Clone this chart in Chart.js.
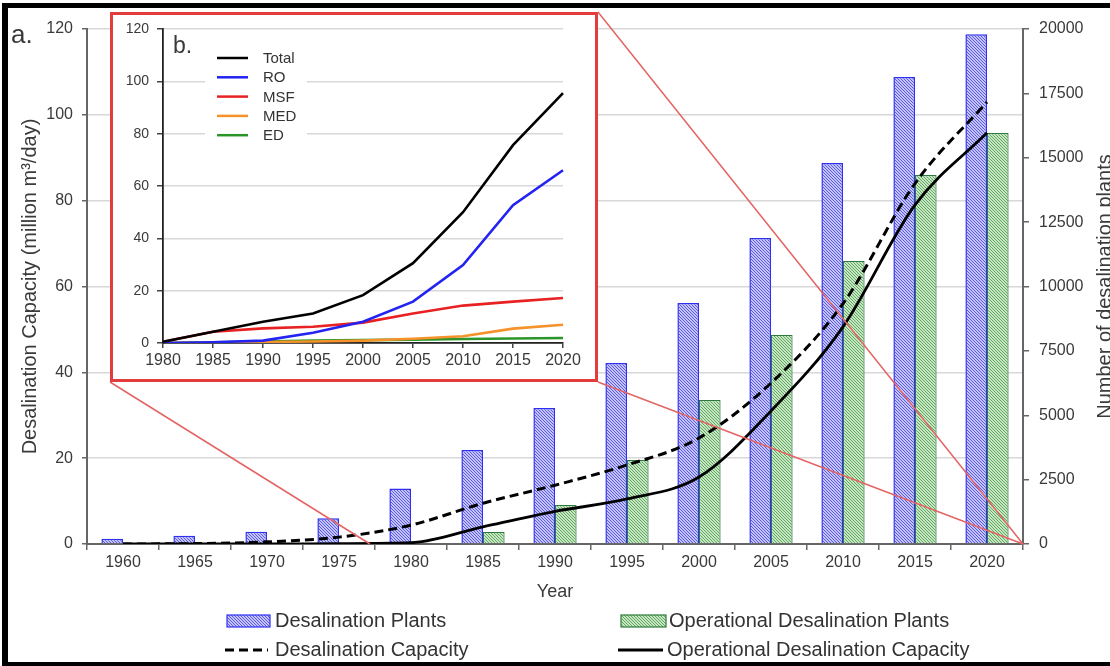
<!DOCTYPE html>
<html>
<head>
<meta charset="utf-8">
<script src="https://cdn.jsdelivr.net/npm/chart.js@4.4.1/dist/chart.umd.min.js"></script>
<style>
  html, body { margin: 0; padding: 0; background: #fff; }
  #wrap { position: relative; width: 1110px; height: 666px; overflow: hidden; }
  #main { position: absolute; left: 0; top: 0; }
  #inset { position: absolute; left: 110px; top: 12px; }
</style>
</head>
<body>
<div id="wrap">
  <canvas id="main" width="1110" height="666"></canvas>
  <canvas id="inset" width="488" height="370"></canvas>
</div>
<script>
  const years = ['1960', '1965', '1970', '1975', '1980', '1985', '1990', '1995', '2000', '2005', '2010', '2015', '2020'];
  const plants = [200, 320, 480, 1000, 2160, 3650, 5280, 7030, 9360, 11880, 14800, 18140, 19800];
  const operationalPlants = [0, 0, 0, 0, 0, 470, 1510, 3260, 5590, 8120, 10990, 14330, 15960];
  const capacity = [0, 0.1, 0.5, 1.6, 4.4, 9.5, 13.7, 18.4, 24.7, 37.5, 56, 84, 103];
  const operationalCapacity = [0, 0, 0, 0.1, 0.3, 4, 7.6, 10.5, 15.6, 31, 50.6, 79, 95.8];

  const insetYears = ['1980', '1985', '1990', '1995', '2000', '2005', '2010', '2015', '2020'];
  const totalCap = [0.5, 4.3, 8.1, 11.3, 18.3, 30.5, 50, 75.6, 95.5];
  const roCap = [0, 0.3, 0.9, 3.9, 8.1, 15.8, 29.8, 52.7, 66];
  const msfCap = [0.5, 4.3, 5.6, 6.2, 7.8, 11.3, 14.3, 15.8, 17.2];
  const medCap = [0, 0.2, 0.4, 0.6, 0.9, 1.6, 2.6, 5.5, 7];
  const edCap = [0, 0.3, 0.6, 0.9, 1.1, 1.3, 1.5, 1.7, 1.9];

  const FONT = '"Liberation Sans", Arial, sans-serif';
  const TEXT = '#3a3a3a';
  const AXIS = '#666';
  const GRID = '#d8d8d8';
  const INSET = { left: 110, top: 12, width: 488, height: 370 };

  Chart.defaults.font.family = FONT;
  Chart.defaults.color = TEXT;

  const mainCtx = document.getElementById('main').getContext('2d');

  function hatch(bg, fg) {
    const tile = document.createElement('canvas');
    tile.width = tile.height = 3;
    const g = tile.getContext('2d');
    g.fillStyle = bg;
    g.fillRect(0, 0, 3, 3);
    g.strokeStyle = fg;
    g.lineWidth = 1;
    g.beginPath();
    g.moveTo(-1, -1); g.lineTo(4, 4);
    g.moveTo(-1, 2); g.lineTo(1, 4);
    g.moveTo(2, -1); g.lineTo(4, 1);
    g.stroke();
    return mainCtx.createPattern(tile, 'repeat');
  }

  const plantsFill = hatch('#c4c4fb', '#5a5ae6');
  const plantsBorder = '#2f2ff0';
  const opFill = hatch('#c8e8c4', '#60a662');
  const opBorder = '#2d7a3c';

  function swatch(ctx, x, y, w, h, fill, border) {
    ctx.fillStyle = fill;
    ctx.fillRect(x, y, w, h);
    ctx.strokeStyle = border;
    ctx.lineWidth = 1.2;
    ctx.strokeRect(x, y, w, h);
  }

  function lineSample(ctx, x1, x2, y, color, width, dash) {
    ctx.save();
    ctx.strokeStyle = color;
    ctx.lineWidth = width;
    ctx.setLineDash(dash || []);
    ctx.beginPath();
    ctx.moveTo(x1, y);
    ctx.lineTo(x2, y);
    ctx.stroke();
    ctx.restore();
  }

  function verticalText(ctx, text, x, y) {
    ctx.save();
    ctx.translate(x, y);
    ctx.rotate(-Math.PI / 2);
    ctx.textAlign = 'center';
    ctx.textBaseline = 'alphabetic';
    ctx.fillText(text, 0, 0);
    ctx.restore();
  }

  const mainDecor = {
    id: 'mainDecor',
    afterDatasetsDraw(chart) {
      const { ctx, chartArea, scales: { x } } = chart;
      const step = x.getPixelForValue(1) - x.getPixelForValue(0);
      const zoomStart = x.getPixelForValue(3) + step * 0.43;
      ctx.save();
      ctx.strokeStyle = '#e46464';
      ctx.lineWidth = 1.5;
      ctx.beginPath();
      ctx.moveTo(INSET.left, INSET.top + INSET.height);
      ctx.lineTo(zoomStart, chartArea.bottom);
      ctx.moveTo(INSET.left + INSET.width, INSET.top);
      ctx.lineTo(chartArea.right, chartArea.bottom);
      ctx.moveTo(INSET.left + INSET.width, INSET.top + INSET.height);
      ctx.lineTo(chartArea.right, chartArea.bottom);
      ctx.stroke();
      ctx.restore();
    },
    afterDraw(chart) {
      const { ctx, chartArea } = chart;
      const midY = (chartArea.top + chartArea.bottom) / 2;
      ctx.save();
      ctx.fillStyle = TEXT;
      ctx.font = `20px ${FONT}`;
      verticalText(ctx, 'Desalination Capacity (million m³/day)', 36, midY);
      verticalText(ctx, 'Number of desalination plants', 1111, midY);

      ctx.font = `18px ${FONT}`;
      ctx.textAlign = 'center';
      ctx.fillText('Year', (chartArea.left + chartArea.right) / 2, 597);

      ctx.font = `26px ${FONT}`;
      ctx.textAlign = 'left';
      ctx.fillText('a.', 11, 43);

      // legend
      ctx.font = `20px ${FONT}`;
      swatch(ctx, 227, 615, 43, 12, plantsFill, plantsBorder);
      swatch(ctx, 621, 615, 45, 12, opFill, opBorder);
      lineSample(ctx, 225, 268, 650, '#000', 3, [9, 5]);
      lineSample(ctx, 618, 663, 650, '#000', 3);
      ctx.fillStyle = '#333';
      ctx.fillText('Desalination Plants', 275, 627);
      ctx.fillText('Operational Desalination Plants', 669, 627);
      ctx.fillText('Desalination Capacity', 275, 656);
      ctx.fillText('Operational Desalination Capacity', 667, 656);

      // figure frame (open on the right)
      ctx.fillStyle = '#000';
      ctx.fillRect(2, 3, 1108, 5);
      ctx.fillRect(2, 3, 6, 663);
      ctx.fillRect(2, 662, 1108, 4);
      ctx.restore();
    }
  };

  new Chart(mainCtx, {
    type: 'bar',
    data: {
      labels: years,
      datasets: [
        {
          label: 'Desalination Plants',
          data: plants,
          yAxisID: 'y1',
          backgroundColor: plantsFill,
          borderColor: plantsBorder,
          borderWidth: 1.5,
          categoryPercentage: 0.6,
          barPercentage: 1,
          order: 1
        },
        {
          label: 'Operational Desalination Plants',
          data: operationalPlants,
          yAxisID: 'y1',
          backgroundColor: opFill,
          borderColor: opBorder,
          borderWidth: 1.2,
          categoryPercentage: 0.6,
          barPercentage: 1,
          order: 1
        },
        {
          type: 'line',
          label: 'Desalination Capacity',
          data: capacity,
          yAxisID: 'y',
          borderColor: '#000',
          borderWidth: 3,
          borderDash: [9, 5],
          pointRadius: 0,
          cubicInterpolationMode: 'monotone',
          order: 0
        },
        {
          type: 'line',
          label: 'Operational Desalination Capacity',
          data: operationalCapacity,
          yAxisID: 'y',
          borderColor: '#000',
          borderWidth: 2.8,
          pointRadius: 0,
          cubicInterpolationMode: 'monotone',
          order: 0
        }
      ]
    },
    options: {
      responsive: false,
      animation: false,
      layout: { padding: { left: 7, right: 0, top: 29, bottom: 92 } },
      plugins: { legend: { display: false }, tooltip: { enabled: false } },
      scales: {
        x: {
          offset: true,
          grid: { offset: true, drawOnChartArea: false, tickLength: 6, tickColor: AXIS, lineWidth: 1.5 },
          border: { color: AXIS, width: 2 },
          ticks: { font: { size: 16 }, color: TEXT, padding: 3, maxRotation: 0, autoSkip: false },
          afterFit: s => { s.height = 30; }
        },
        y: {
          position: 'left',
          min: 0,
          max: 120,
          ticks: { stepSize: 20, font: { size: 16 }, color: TEXT, padding: 9 },
          grid: { color: GRID, lineWidth: 1.5, tickLength: 5, tickColor: AXIS },
          border: { color: AXIS, width: 2 },
          afterFit: s => { s.width = 80; }
        },
        y1: {
          position: 'right',
          min: 0,
          max: 20000,
          ticks: { stepSize: 2500, font: { size: 16 }, color: TEXT, padding: 10, callback: v => String(v) },
          grid: { drawOnChartArea: false, tickLength: 6, tickColor: AXIS, lineWidth: 1.5 },
          border: { color: AXIS, width: 2 },
          afterFit: s => { s.width = 87; }
        }
      }
    },
    plugins: [mainDecor]
  });

  const insetSeries = [
    { label: 'Total', data: totalCap, color: '#000000' },
    { label: 'RO', data: roCap, color: '#2323f2' },
    { label: 'MSF', data: msfCap, color: '#e82222' },
    { label: 'MED', data: medCap, color: '#f5922a' },
    { label: 'ED', data: edCap, color: '#2a962a' }
  ];

  const insetDecor = {
    id: 'insetDecor',
    beforeDraw(chart) {
      const { ctx, width, height } = chart;
      ctx.save();
      ctx.fillStyle = '#fff';
      ctx.fillRect(0, 0, width, height);
      ctx.restore();
    },
    afterDraw(chart) {
      const { ctx, width, height } = chart;
      ctx.save();
      // legend box hides the grid behind it
      ctx.fillStyle = '#fff';
      ctx.fillRect(95, 33, 102, 100);
      ctx.font = `15px ${FONT}`;
      ctx.textBaseline = 'middle';
      insetSeries.forEach((s, i) => {
        const y = 46 + i * 19.3;
        lineSample(ctx, 107, 138, y, s.color, 2.5);
        ctx.fillStyle = '#333';
        ctx.fillText(s.label, 153, y + 1);
      });
      ctx.textBaseline = 'alphabetic';
      ctx.font = `23px ${FONT}`;
      ctx.fillStyle = TEXT;
      ctx.fillText('b.', 63, 41);
      ctx.strokeStyle = '#e23c3c';
      ctx.lineWidth = 3;
      ctx.strokeRect(1.5, 1.5, width - 3, height - 3);
      ctx.restore();
    }
  };

  new Chart(document.getElementById('inset'), {
    type: 'line',
    data: {
      labels: insetYears,
      datasets: insetSeries.map(s => ({
        label: s.label,
        data: s.data,
        borderColor: s.color,
        borderWidth: 2.6,
        pointRadius: 0,
        tension: 0
      }))
    },
    options: {
      responsive: false,
      animation: false,
      layout: { padding: { left: 0, right: 35, top: 17, bottom: 9 } },
      plugins: { legend: { display: false }, tooltip: { enabled: false } },
      scales: {
        x: {
          offset: false,
          grid: { drawOnChartArea: false, tickLength: 5, tickColor: '#444', lineWidth: 1.5 },
          border: { color: '#222', width: 1.8 },
          ticks: { font: { size: 16 }, color: TEXT, padding: 3, maxRotation: 0, autoSkip: false },
          afterFit: s => { s.height = 30; }
        },
        y: {
          min: 0,
          max: 120,
          ticks: { stepSize: 20, font: { size: 14 }, color: TEXT, padding: 8 },
          grid: { color: GRID, lineWidth: 1.5, tickLength: 6, tickColor: '#444' },
          border: { color: '#222', width: 1.8 },
          afterFit: s => { s.width = 53; }
        }
      }
    },
    plugins: [insetDecor]
  });
</script>
</body>
</html>
